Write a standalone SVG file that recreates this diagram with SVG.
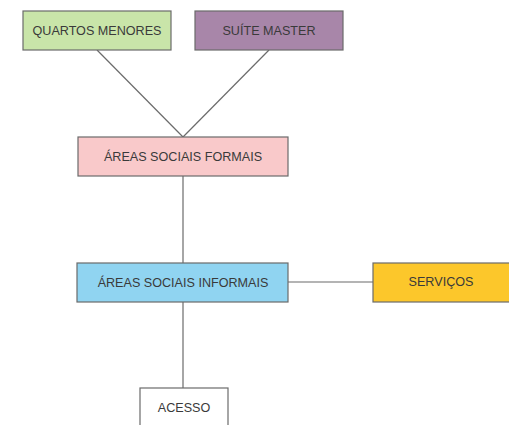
<svg xmlns="http://www.w3.org/2000/svg" width="509" height="425" viewBox="0 0 509 425">
  <style>
    .box { stroke: #6b6b6b; stroke-width: 1.2; }
    .lbl { font-family: "Liberation Sans", Arial, sans-serif; font-size: 12.6px; fill: #3a3a3a; text-anchor: middle; dominant-baseline: central; }
    .conn { stroke: #6b6b6b; stroke-width: 1.2; fill: none; }
  </style>
  <rect width="509" height="425" fill="#fff"/>
  <g id="connectors">
    <line class="conn" x1="97" y1="50" x2="183" y2="137"/>
    <line class="conn" x1="269" y1="50" x2="183" y2="137"/>
    <line class="conn" x1="183" y1="176" x2="183" y2="263"/>
    <line class="conn" x1="288" y1="282" x2="373" y2="282"/>
    <line class="conn" x1="183" y1="302" x2="183" y2="388"/>
  </g>
  <g id="quartos-menores">
    <rect class="box" x="23" y="11" width="148" height="39" fill="#c9e5a9"/>
    <text class="lbl" x="97" y="31">QUARTOS MENORES</text>
  </g>
  <g id="suite-master">
    <rect class="box" x="195" y="11" width="148" height="39" fill="#a886a9"/>
    <text class="lbl" x="269" y="31">SUÍTE MASTER</text>
  </g>
  <g id="areas-sociais-formais">
    <rect class="box" x="78" y="137" width="210" height="39" fill="#f9c9ca"/>
    <text class="lbl" x="183" y="157">ÁREAS SOCIAIS FORMAIS</text>
  </g>
  <g id="areas-sociais-informais">
    <rect class="box" x="77" y="263" width="211" height="39" fill="#90d4f1"/>
    <text class="lbl" x="183" y="283">ÁREAS SOCIAIS INFORMAIS</text>
  </g>
  <g id="servicos">
    <rect class="box" x="373" y="263" width="140" height="39" fill="#fcc72b"/>
    <text class="lbl" x="441" y="282">SERVIÇOS</text>
  </g>
  <g id="acesso">
    <rect class="box" x="140" y="388" width="88" height="45" fill="#fff"/>
    <text class="lbl" x="184" y="408">ACESSO</text>
  </g>
</svg>
